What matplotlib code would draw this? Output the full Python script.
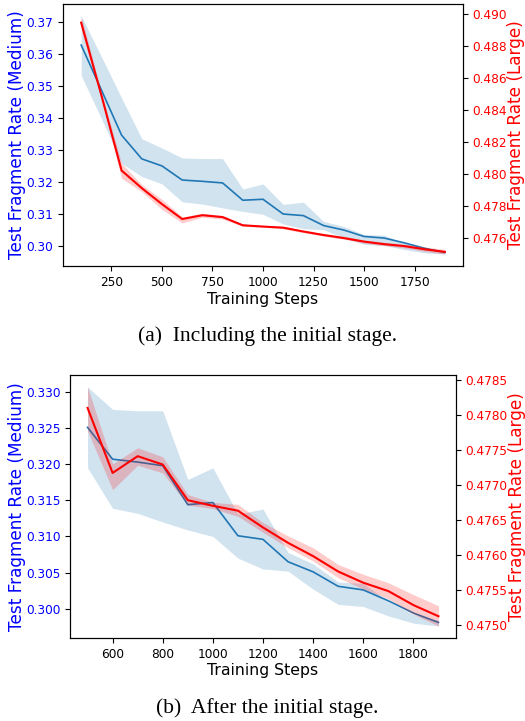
import numpy as np
import matplotlib
matplotlib.use("Agg")
import matplotlib.pyplot as plt

# ===== data =====
steps_all = [100, 200, 300, 400, 500, 600, 700, 800, 900, 1000,
             1100, 1200, 1300, 1400, 1500, 1600, 1700, 1800, 1900]

# medium model: mean and band edges
med_mean = [0.3628, 0.3488, 0.3347, 0.3273, 0.3251, 0.3207, 0.3203, 0.3198, 0.3144, 0.3147,
            0.3101, 0.3096, 0.3065, 0.3051, 0.3031, 0.3026, 0.3011, 0.2994, 0.2981]
med_hi = [0.3719, 0.3592, 0.3463, 0.3336, 0.3307, 0.3276, 0.3274, 0.3274, 0.3179, 0.3195,
          0.3131, 0.3138, 0.3078, 0.3062, 0.3037, 0.3035, 0.3010, 0.2992, 0.2984]
med_lo = [0.3533, 0.3399, 0.3259, 0.3218, 0.3195, 0.3139, 0.3132, 0.3120, 0.3109, 0.3100,
          0.3070, 0.3055, 0.3052, 0.3027, 0.3006, 0.3003, 0.2990, 0.2980, 0.2976]

# large model: mean and band edges
large_mean = [0.48944, 0.48490, 0.48020, 0.47910, 0.47810, 0.47717, 0.47741, 0.47729, 0.47678, 0.47670,
              0.47663, 0.47639, 0.47617, 0.47598, 0.47576, 0.47560, 0.47548, 0.47528, 0.47512]
large_hi = [0.48986, 0.48510, 0.48065, 0.47932, 0.47840, 0.47730, 0.47753, 0.47740, 0.47686, 0.47675,
            0.47672, 0.47646, 0.47627, 0.47610, 0.47586, 0.47572, 0.47560, 0.47543, 0.47527]
large_lo = [0.48903, 0.48470, 0.47972, 0.47888, 0.47777, 0.47693, 0.47728, 0.47717, 0.47671, 0.47666,
            0.47655, 0.47632, 0.47610, 0.47591, 0.47567, 0.47551, 0.47537, 0.47515, 0.47498]

captions = ["(a)  Including the initial stage.", "(b)  After the initial stage."]
# =================

tick_fs = 8.7
label_fs = 12.2
xlabel_fs = 11.3


def draw_panel(ax, start, left_fmt, right_fmt, xticks):
    x = np.array(steps_all)
    keep = x >= start
    xs = x[keep]

    ax.fill_between(xs, np.array(med_lo)[keep], np.array(med_hi)[keep],
                    color="tab:blue", alpha=0.2, linewidth=0)
    ax.plot(xs, np.array(med_mean)[keep], color="tab:blue", linewidth=1.2)
    ax.set_ylabel("Test Fragment Rate (Medium)", color="blue", fontsize=label_fs, labelpad=0)
    ax.tick_params(axis="y", labelcolor="blue", labelsize=tick_fs)
    ax.tick_params(axis="x", labelsize=tick_fs)
    ax.yaxis.set_major_formatter(plt.FormatStrFormatter(left_fmt))
    ax.set_xlabel("Training Steps", fontsize=xlabel_fs, labelpad=2)
    ax.set_xticks(xticks)

    ax2 = ax.twinx()
    ax2.fill_between(xs, np.array(large_lo)[keep], np.array(large_hi)[keep],
                     color="red", alpha=0.2, linewidth=0)
    ax2.plot(xs, np.array(large_mean)[keep], color="red", linewidth=1.5)
    ax2.set_ylabel("Test Fragment Rate (Large)", color="red", fontsize=label_fs, labelpad=0)
    ax2.tick_params(axis="y", labelcolor="red", labelsize=tick_fs)
    ax2.yaxis.set_major_formatter(plt.FormatStrFormatter(right_fmt))
    return ax2


fig = plt.figure(figsize=(5.25, 7.21), dpi=100)

ax_a = fig.add_axes([63 / 525, 1 - 266 / 721, 400 / 525, 262 / 721])
draw_panel(ax_a, 100, "%.2f", "%.3f", [250, 500, 750, 1000, 1250, 1500, 1750])

ax_b = fig.add_axes([70 / 525, 1 - 638 / 721, 386 / 525, 263 / 721])
draw_panel(ax_b, 500, "%.3f", "%.4f", [600, 800, 1000, 1200, 1400, 1600, 1800])

fig.text(0.509, 1 - 341 / 721, captions[0], ha="center", va="baseline",
         family="Liberation Serif", fontsize=15.5)
fig.text(0.509, 1 - 713 / 721, captions[1], ha="center", va="baseline",
         family="Liberation Serif", fontsize=15.5)

fig.savefig("out.png", dpi=100)
